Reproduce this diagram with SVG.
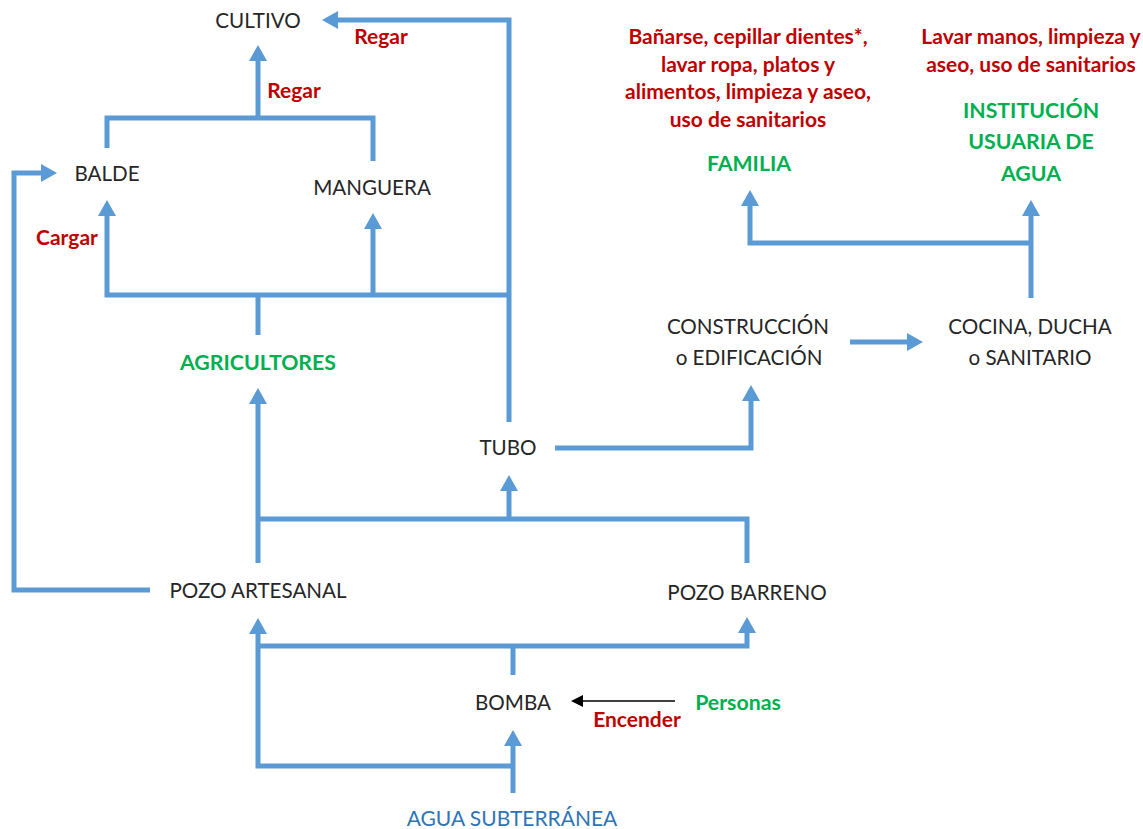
<svg xmlns="http://www.w3.org/2000/svg" width="1143" height="829" viewBox="0 0 1143 829">
  <style>
    text { font-family: "Lato", "Liberation Sans", sans-serif; text-anchor: middle; }
    .node { font-size: 20.6px; fill: #262626; }
    .act { font-size: 21px; font-weight: bold; fill: #C00000; }
    .actor { font-size: 21.3px; font-weight: bold; fill: #00B050; }
    .src { font-size: 21px; fill: #2E75B6; }
    .flow { fill: none; stroke: #5B9BD5; stroke-width: 5; stroke-linejoin: miter; stroke-linecap: butt; }
    .flow.arrow { marker-end: url(#head); }
    .cmd { fill: none; stroke: #000; stroke-width: 1.5; marker-end: url(#headBlack); }
  </style>
  <defs>
    <marker id="head" viewBox="0 0 16 18" markerWidth="16" markerHeight="18" refX="1" refY="9" orient="auto" markerUnits="userSpaceOnUse">
      <path d="M0,0 L16,9 L0,18 z" fill="#5B9BD5"/>
    </marker>
    <marker id="headBlack" viewBox="0 0 12 12" markerWidth="12" markerHeight="12" refX="1" refY="6" orient="auto" markerUnits="userSpaceOnUse">
      <path d="M0,0 L12,6 L0,12 z" fill="#000"/>
    </marker>
  </defs>

  <rect width="1143" height="829" fill="#fff"/>

  <!-- water flow connectors -->
  <g id="connectors">
    <!-- tubo straight to the crop -->
    <path class="flow arrow" d="M509,422 V20 H337"/>
    <!-- bucket and hose to the crop -->
    <path class="flow" d="M107,148 V118 H373 V161"/>
    <path class="flow arrow" d="M258,118 V60"/>
    <!-- hand-dug well carried to bucket -->
    <path class="flow arrow" d="M150,590 H14 V173 H42"/>
    <!-- farmers to bucket / hose / pipe -->
    <path class="flow" d="M258,335 V295"/>
    <path class="flow arrow" d="M509,295 H107 V215"/>
    <path class="flow arrow" d="M373,295 V228"/>
    <!-- wells to farmers and pipe -->
    <path class="flow arrow" d="M258,563 V403"/>
    <path class="flow" d="M258,519 H747 V563"/>
    <path class="flow arrow" d="M509,519 V490"/>
    <!-- pipe to building -->
    <path class="flow arrow" d="M555,448 H751 V400"/>
    <!-- building to fixtures -->
    <path class="flow arrow" d="M850,342 H908"/>
    <!-- fixtures to users -->
    <path class="flow arrow" d="M1031,298 V215"/>
    <path class="flow arrow" d="M1031,243 H750 V205"/>
    <!-- groundwater through the pump to the wells -->
    <path class="flow arrow" d="M513,793 V745"/>
    <path class="flow arrow" d="M513,766 H258 V633"/>
    <path class="flow" d="M513,675 V646"/>
    <path class="flow arrow" d="M258,646 H747 V632"/>
    <!-- people switch on the pump -->
    <path class="cmd" d="M675,701 H582"/>
  </g>

  <g id="cultivo"><text class="node" x="258" y="28">CULTIVO</text></g>
  <g id="label-regar-tubo"><text class="act" x="381" y="44">Regar</text></g>
  <g id="label-regar"><text class="act" x="294" y="98">Regar</text></g>
  <g id="balde"><text class="node" x="107" y="181">BALDE</text></g>
  <g id="manguera"><text class="node" x="372" y="195">MANGUERA</text></g>
  <g id="label-cargar"><text class="act" x="67" y="245">Cargar</text></g>
  <g id="agricultores"><text class="actor" x="258" y="370">AGRICULTORES</text></g>
  <g id="tubo"><text class="node" x="508" y="455">TUBO</text></g>
  <g id="construccion">
    <text class="node" x="748" y="334">CONSTRUCCIÓN</text>
    <text class="node" x="749" y="365">o EDIFICACIÓN</text>
  </g>
  <g id="cocina">
    <text class="node" x="1030" y="334">COCINA, DUCHA</text>
    <text class="node" x="1030" y="365">o SANITARIO</text>
  </g>
  <g id="usos-familia">
    <text class="act" x="748" y="44">Bañarse, cepillar dientes*,</text>
    <text class="act" x="748" y="72">lavar ropa, platos y</text>
    <text class="act" x="748" y="99">alimentos, limpieza y aseo,</text>
    <text class="act" x="748" y="127">uso de sanitarios</text>
  </g>
  <g id="familia"><text class="actor" x="749" y="171">FAMILIA</text></g>
  <g id="usos-institucion">
    <text class="act" x="1031" y="44">Lavar manos, limpieza y</text>
    <text class="act" x="1031" y="72">aseo, uso de sanitarios</text>
  </g>
  <g id="institucion">
    <text class="actor" x="1031" y="118">INSTITUCIÓN</text>
    <text class="actor" x="1031" y="149">USUARIA DE</text>
    <text class="actor" x="1031" y="181">AGUA</text>
  </g>
  <g id="pozo-artesanal"><text class="node" x="258" y="598">POZO ARTESANAL</text></g>
  <g id="pozo-barreno"><text class="node" x="747" y="600">POZO BARRENO</text></g>
  <g id="bomba"><text class="node" x="513" y="710">BOMBA</text></g>
  <g id="personas"><text class="actor" x="738" y="710">Personas</text></g>
  <g id="label-encender"><text class="act" x="637" y="727">Encender</text></g>
  <g id="agua-subterranea"><text class="src" x="512" y="826">AGUA SUBTERRÁNEA</text></g>
</svg>
